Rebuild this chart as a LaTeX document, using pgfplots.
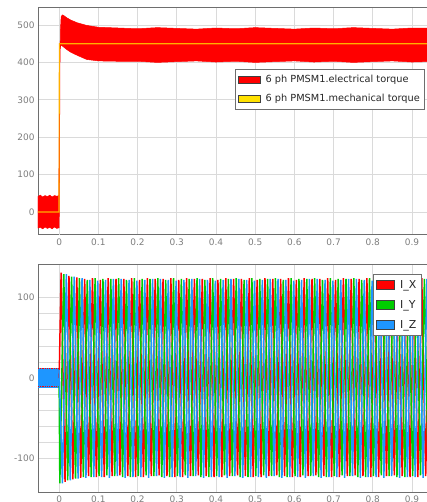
\documentclass[border=0pt]{standalone}
\usepackage{pgfplots}
\pgfplotsset{compat=1.18}
\usepackage{pgfplotstable}
\usepackage{fontspec}
\setmainfont{DejaVu Sans}
\definecolor{cRed}{RGB}{255,0,0}
\definecolor{cGreen}{RGB}{0,205,0}
\definecolor{cBlue}{RGB}{30,150,255}
\definecolor{cOrange}{RGB}{255,175,0}
\definecolor{cYellow}{RGB}{255,225,0}
\definecolor{gridc}{RGB}{218,218,218}
\definecolor{axc}{RGB}{110,110,110}
\definecolor{zeroc}{RGB}{150,150,150}
\definecolor{tickc}{RGB}{125,125,125}

% peaks of the three phase currents: tX X tY Y tZ Z
\pgfplotstableread{
tX X tY Y tZ Z
0 0 0 -10 0 10
0.005 131 0.0017 -131 0.0083 -131
0.015 -129 0.0117 129 0.0183 129
0.025 127 0.0217 -127 0.0283 -127
0.035 -126 0.0317 126 0.0383 126
0.045 125 0.0417 -125 0.0483 -125
0.055 -124 0.0517 124 0.0583 124
0.065 123 0.0617 -123 0.0683 -124
0.075 -122 0.0717 122 0.0783 122
0.085 124 0.0817 -123 0.0883 -123
0.095 -123 0.0917 124 0.0983 121
0.105 122 0.1017 -122 0.1083 -123
0.115 -123 0.1117 123 0.1183 122
0.125 124 0.1217 -121 0.1283 -124
0.135 -122 0.1317 123 0.1383 123
0.145 123 0.1417 -122 0.1483 -122
0.155 -121 0.1517 124 0.1583 123
0.165 123 0.1617 -123 0.1683 -124
0.175 -122 0.1717 122 0.1783 122
0.185 124 0.1817 -123 0.1883 -123
0.195 -123 0.1917 124 0.1983 121
0.205 122 0.2017 -122 0.2083 -123
0.215 -123 0.2117 123 0.2183 122
0.225 124 0.2217 -121 0.2283 -124
0.235 -122 0.2317 123 0.2383 123
0.245 123 0.2417 -122 0.2483 -122
0.255 -121 0.2517 124 0.2583 123
0.265 123 0.2617 -123 0.2683 -124
0.275 -122 0.2717 122 0.2783 122
0.285 124 0.2817 -123 0.2883 -123
0.295 -123 0.2917 124 0.2983 121
0.305 122 0.3017 -122 0.3083 -123
0.315 -123 0.3117 123 0.3183 122
0.325 124 0.3217 -121 0.3283 -124
0.335 -122 0.3317 123 0.3383 123
0.345 123 0.3417 -122 0.3483 -122
0.355 -121 0.3517 124 0.3583 123
0.365 123 0.3617 -123 0.3683 -124
0.375 -122 0.3717 122 0.3783 122
0.385 124 0.3817 -123 0.3883 -123
0.395 -123 0.3917 124 0.3983 121
0.405 122 0.4017 -122 0.4083 -123
0.415 -123 0.4117 123 0.4183 122
0.425 124 0.4217 -121 0.4283 -124
0.435 -122 0.4317 123 0.4383 123
0.445 123 0.4417 -122 0.4483 -122
0.455 -121 0.4517 124 0.4583 123
0.465 123 0.4617 -123 0.4683 -124
0.475 -122 0.4717 122 0.4783 122
0.485 124 0.4817 -123 0.4883 -123
0.495 -123 0.4917 124 0.4983 121
0.505 122 0.5017 -122 0.5083 -123
0.515 -123 0.5117 123 0.5183 122
0.525 124 0.5217 -121 0.5283 -124
0.535 -122 0.5317 123 0.5383 123
0.545 123 0.5417 -122 0.5483 -122
0.555 -121 0.5517 124 0.5583 123
0.565 123 0.5617 -123 0.5683 -124
0.575 -122 0.5717 122 0.5783 122
0.585 124 0.5817 -123 0.5883 -123
0.595 -123 0.5917 124 0.5983 121
0.605 122 0.6017 -122 0.6083 -123
0.615 -123 0.6117 123 0.6183 122
0.625 124 0.6217 -121 0.6283 -124
0.635 -122 0.6317 123 0.6383 123
0.645 123 0.6417 -122 0.6483 -122
0.655 -121 0.6517 124 0.6583 123
0.665 123 0.6617 -123 0.6683 -124
0.675 -122 0.6717 122 0.6783 122
0.685 124 0.6817 -123 0.6883 -123
0.695 -123 0.6917 124 0.6983 121
0.705 122 0.7017 -122 0.7083 -123
0.715 -123 0.7117 123 0.7183 122
0.725 124 0.7217 -121 0.7283 -124
0.735 -122 0.7317 123 0.7383 123
0.745 123 0.7417 -122 0.7483 -122
0.755 -121 0.7517 124 0.7583 123
0.765 123 0.7617 -123 0.7683 -124
0.775 -122 0.7717 122 0.7783 122
0.785 124 0.7817 -123 0.7883 -123
0.795 -123 0.7917 124 0.7983 121
0.805 122 0.8017 -122 0.8083 -123
0.815 -123 0.8117 123 0.8183 122
0.825 124 0.8217 -121 0.8283 -124
0.835 -122 0.8317 123 0.8383 123
0.845 123 0.8417 -122 0.8483 -122
0.855 -121 0.8517 124 0.8583 123
0.865 123 0.8617 -123 0.8683 -124
0.875 -122 0.8717 122 0.8783 122
0.885 124 0.8817 -123 0.8883 -123
0.895 -123 0.8917 124 0.8983 121
0.905 122 0.9017 -122 0.9083 -123
0.915 -123 0.9117 123 0.9183 122
0.925 124 0.9217 -121 0.9283 -124
0.935 -122 0.9317 123 0.9383 123
0.945 123 0.9417 -122 0.9483 -122
0.955 -121 0.9517 124 0.9583 123
0.965 123 0.9617 -123 0.9683 -124
}\currents

\pgfplotsset{
  base/.style={
    scale only axis, width=400bp, height=227bp,
    anchor=south west,
    xmin=-0.054, xmax=0.9664,
    xtick={0,0.1,0.2,0.3,0.4,0.5,0.6,0.7,0.8,0.9},
    xticklabels={0,0.1,0.2,0.3,0.4,0.5,0.6,0.7,0.8,0.9},
    grid=major,
    major grid style={gridc, line width=0.8pt},
    minor grid style={gridc, line width=0.6pt},
    axis line style={axc, line width=1pt},
    major tick length=0pt, minor tick length=0pt,
    tick style={draw=none},
    ticklabel style={font=\fontsize{9}{10}\selectfont, text=tickc},
    /pgf/number format/assume math mode=true,
    extra x ticks={0}, extra x tick labels={},
    extra x tick style={grid style={zeroc, line width=0.9pt}},
    legend cell align=left,
  },
}

\begin{document}
\begin{tikzpicture}
\useasboundingbox (0,0) rectangle (427bp,502bp);
% ---------- top: torques ----------
\begin{axis}[base, at={(38bp,267bp)},
  ymin=-61.5, ymax=545.5,
  ytick={0,100,200,300,400,500},
  yticklabels={0,100,200,300,400,500},
  extra y ticks={0}, extra y tick labels={},
  extra y tick style={grid style={zeroc, line width=0.9pt}},
  legend style={at={(197bp,166bp)}, anchor=north west,
    draw=axc, line width=0.8pt, fill=white,
    font=\fontsize{9.8}{11}\selectfont, text=black!85,
    inner xsep=2.5pt, inner ysep=4pt, row sep=6pt},
]
\addlegendimage{legend image code/.code={\draw[fill=cRed, draw=black!75, line width=0.6pt] (0bp,-3.5bp) rectangle (22bp,3.5bp); \path (25bp,0bp);}}
\addlegendentry{6 ph PMSM1.electrical torque}
\addlegendimage{legend image code/.code={\draw[fill=cYellow, draw=black!75, line width=0.6pt] (0bp,-3.5bp) rectangle (22bp,3.5bp); \path (25bp,0bp);}}
\addlegendentry{6 ph PMSM1.mechanical torque}
\addplot[fill=cRed, draw=cRed, line width=0.5pt, forget plot] coordinates {
(-0.054,42)(-0.048,45)(-0.042,40)(-0.036,44)(-0.030,41)(-0.024,45)(-0.018,40)(-0.012,44)(-0.006,42)(-0.001,44)
(0.001,300)(0.003,480)(0.005,522)(0.008,527)(0.012,525)(0.02,519)(0.03,513)(0.046,506)(0.07,499)(0.1,494)
(0.15,492)(0.2,490)(0.25,493)(0.3,491)(0.35,489)(0.4,492)(0.45,490)(0.5,493)(0.55,491)(0.6,489)(0.65,492)(0.7,490)(0.75,493)(0.8,491)(0.85,489)(0.9,492)(0.97,491)
(0.97,403)(0.9,401)(0.85,404)(0.8,402)(0.75,400)(0.7,403)(0.65,401)(0.6,404)(0.55,402)(0.5,400)(0.45,403)(0.4,401)(0.35,404)(0.3,402)(0.25,400)(0.2,403)(0.15,403)
(0.1,404)(0.07,408)(0.046,419)(0.03,427)(0.02,434)(0.008,444)(0.004,446)(0.002,430)(0.001,100)(0,-42)
(-0.006,-44)(-0.012,-40)(-0.018,-45)(-0.024,-41)(-0.030,-44)(-0.036,-40)(-0.042,-45)(-0.048,-41)(-0.054,-43)
} -- cycle;
\addplot[cOrange, line width=1.1pt, forget plot] coordinates {
(-0.054,0)(-0.0005,0)(0.0005,450)(0.97,450)};
\end{axis}
% ---------- bottom: currents ----------
\begin{axis}[base, at={(38bp,10bp)},
  ymin=-141.6, ymax=140.4,
  ytick={-100,0,100},
  yticklabels={-100,0,100},
  minor y tick num=4,
  grid=both,
  legend style={at={(335bp,218bp)}, anchor=north west,
    draw=axc, line width=0.8pt, fill=white,
    font=\fontsize{11}{12}\selectfont, text=black!85,
    inner xsep=3pt, inner ysep=4pt, row sep=6.5pt},
]
\addlegendimage{legend image code/.code={\draw[fill=cRed, draw=black!75, line width=0.6pt] (0bp,-4.5bp) rectangle (18bp,4.5bp); \path (21bp,0bp);}}
\addlegendentry{I\_X}
\addlegendimage{legend image code/.code={\draw[fill=cGreen, draw=black!75, line width=0.6pt] (0bp,-4.5bp) rectangle (18bp,4.5bp); \path (21bp,0bp);}}
\addlegendentry{I\_Y}
\addlegendimage{legend image code/.code={\draw[fill=cBlue, draw=black!75, line width=0.6pt] (0bp,-4.5bp) rectangle (18bp,4.5bp); \path (21bp,0bp);}}
\addlegendentry{I\_Z}
\addplot[fill=cBlue, draw=cBlue, forget plot] coordinates {(-0.054,-11)(0,-11)(0,12)(-0.054,12)} -- cycle;
\addplot[cRed, densely dotted, line width=0.8pt, forget plot] coordinates {(-0.054,12)(0,12)};
\addplot[cRed, densely dotted, line width=0.8pt, forget plot] coordinates {(-0.054,-11)(0,-11)};
\addplot[cRed, line width=1.5pt, forget plot] table[x=tX, y=X] {\currents};
\addplot[cGreen, line width=1.5pt, forget plot] table[x=tY, y=Y] {\currents};
\addplot[cBlue, line width=1.5pt, forget plot] table[x=tZ, y=Z] {\currents};
\end{axis}
\end{tikzpicture}
\end{document}
